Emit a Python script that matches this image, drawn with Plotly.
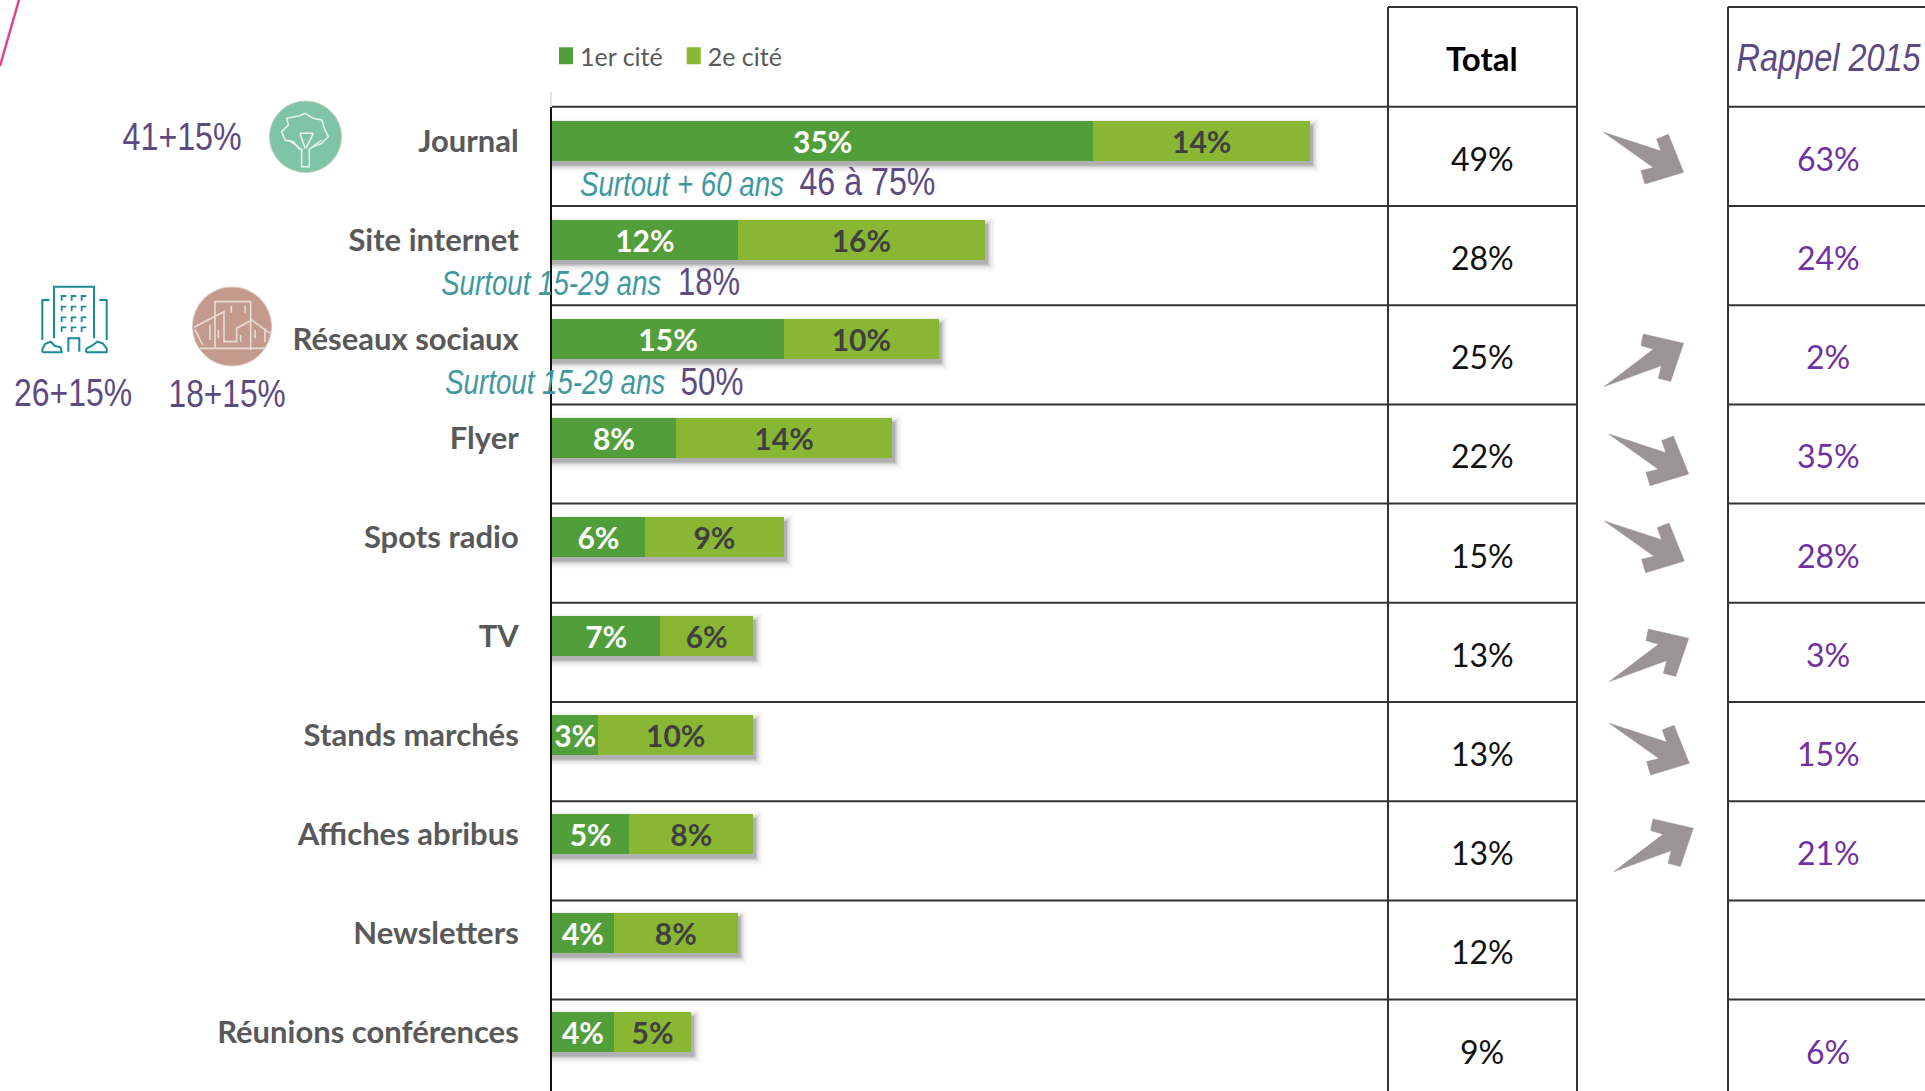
import json
import plotly.graph_objects as go

W, H = 1925, 1091
categories = ["Journal", "Site internet", "Réseaux sociaux", "Flyer", "Spots radio", "TV",
              "Stands marchés", "Affiches abribus", "Newsletters", "Réunions conférences"]
premier = [35, 12, 15, 8, 6, 7, 3, 5, 4, 4]
deuxieme = [14, 16, 10, 14, 9, 6, 10, 8, 8, 5]
total = [49, 28, 25, 22, 15, 13, 13, 13, 12, 9]
rappel = [63, 24, 2, 35, 28, 3, 15, 21, None, 6]
tendance = ["down", None, "up", "down", "down", "up", "down", "up", None, None]
arrow_tips = [(1683.6, 172.3), None, (1683.6, 343.3), (1688.7, 474), (1684.3, 561),
              (1688.7, 638.3), (1689.3, 763.3), (1693.3, 828.3), None, None]

NARROW = "Liberation Sans"
LATO = "Lato"
GREEN1, GREEN2 = "#529e3a", "#8ab733"
PURPLE, TEAL, RAPPEL = "#5c4a80", "#3f98a0", "#7030a0"
GREY_TXT, LINE, ARROW = "#595959", "#333333", "#9b9395"

X0, PX_PER_PCT = 552, 15.47
ROW_Y0, ROW_STEP = 140.8, 99.0

# widths (px) of the condensed texts in the reference
narrow_widths = {"Rappel 2015": 184, "Surtout + 60 ans": 204, "46 à 75%": 136, "Surtout 15-29 ans": 220,
                 "18%": 62, "50%": 63, "41+15%": 119, "26+15%": 118, "18+15%": 117}


def px(x):
    return x / W


def py(y):
    return 1 - y / H


def rowy(y):
    return (y - ROW_Y0) / ROW_STEP


def path(*subpaths, close=False):
    out = []
    for pts in subpaths:
        out.append("M " + " L ".join(f"{px(x):.5f} {py(y):.5f}" for x, y in pts) + (" Z" if close else ""))
    return " ".join(out)


def zoom_pts(pts, ox, oy):
    return [(ox + x / 3, oy + y / 3) for x, y in pts]


shapes = []


def line(x0, y0, x1, y1, color=LINE, width=2):
    shapes.append(dict(type="line", xref="paper", yref="paper", x0=px(x0), x1=px(x1), y0=py(y0), y1=py(y1),
                       line=dict(color=color, width=width), layer="above"))


def draw(subpaths, color, width=1.5, fill=None):
    shapes.append(dict(type="path", xref="paper", yref="paper", path=path(*subpaths, close=fill is not None),
                       line=dict(color=color, width=width), fillcolor=fill or "rgba(0,0,0,0)", layer="above"))


# bar drop shadows, derived from the bar totals
for i, t in enumerate(total):
    for grow, op in ((0.0, 0.24), (1.5, 0.14), (3.0, 0.09), (5.0, 0.05), (7.0, 0.03)):
        shapes.append(dict(type="rect", xref="x", yref="y", x0=0, x1=t + (3 + grow) / PX_PER_PCT,
                           y0=i - 0.2 + (4 - grow) / ROW_STEP, y1=i + 0.2 + (5 + grow) / ROW_STEP,
                           fillcolor="#555555", opacity=op, line=dict(width=0), layer="below"))

# table frame
for k in range(10):
    y = 106.8 + 99.2 * k
    line(X0, y, 1577, y)
    line(1728, y, W, y)
line(1388, 7, 1577, 7)
line(1728, 7, W, 7)
line(1388, 7, 1388, H)
line(1577, 7, 1577, H)
line(1728, 7, 1728, H)
line(X0 - 1, 92, X0 - 1, 106, "#d9d9d9", 1.5)

# trend arrows
DOWN = [(-80, -40), (-22.7, -21.3), (-27, -33.3), (-15.3, -38), (0, 0), (-38.7, 11.7), (-42.7, -1.7), (-30.3, -4.7)]
UP = [(-79.3, 43.3), (-22, 22.3), (-25.3, 35), (-13, 38.3), (0, 0), (-40.3, -9.3), (-42.7, 2.3), (-30.3, 6)]
for tip, d in zip(arrow_tips, tendance):
    if tip:
        draw([[(tip[0] + x, tip[1] + y) for x, y in (DOWN if d == "down" else UP)]], ARROW, 0.5, ARROW)

# pink stroke, top left
line(19, 0, 0, 66, "#d9478a", 2.5)

# tree icon
shapes.append(dict(type="circle", xref="paper", yref="paper", x0=px(269.5), x1=px(341.5), y0=py(101), y1=py(172.5),
                   fillcolor="#7fc4a5", line=dict(color="#b5cfc4", width=1), layer="above"))
TX, TY = 250, 90
draw([zoom_pts([(150, 180), (130, 155), (105, 150), (95, 125), (115, 105), (110, 85), (150, 77), (165, 70), (190, 85),
                (215, 90), (225, 120), (235, 140), (215, 160), (185, 172)], TX, TY)], "#e8f4ee", 1.5)
draw([zoom_pts([(155, 180), (155, 230), (178, 230), (178, 180)], TX, TY),
      zoom_pts([(158, 180), (115, 150)], TX, TY), zoom_pts([(175, 180), (215, 150)], TX, TY),
      zoom_pts([(165, 175), (150, 130)], TX, TY), zoom_pts([(168, 175), (190, 130)], TX, TY),
      zoom_pts([(150, 130), (190, 130)], TX, TY)], "#e8f4ee", 1.5)

# building icon
BX, BY = 20, 270
BT = "#1a8a94"
draw([zoom_pts([(102, 205), (102, 50), (222, 50), (222, 205)], BX, BY),
      zoom_pts([(88, 90), (67, 90), (67, 210)], BX, BY), zoom_pts([(238, 90), (260, 90), (260, 210)], BX, BY),
      zoom_pts([(145, 245), (145, 205), (178, 205), (178, 245)], BX, BY),
      zoom_pts([(67, 247), (125, 247), (122, 232), (105, 228), (92, 215), (75, 222), (67, 238), (67, 247)], BX, BY),
      zoom_pts([(197, 247), (260, 247), (260, 235), (248, 220), (232, 215), (215, 228), (200, 235), (197, 247)], BX, BY)],
     BT, 2)
win = []
for wy in (78, 110, 142, 172):
    for wx in (125, 155, 185):
        win.append(zoom_pts([(wx, wy + 14), (wx, wy), (wx + 14, wy)], BX, BY))
draw(win, BT, 1.8)

# city icon
shapes.append(dict(type="circle", xref="paper", yref="paper", x0=px(192.5), x1=px(271.5), y0=py(287), y1=py(366),
                   fillcolor="#c49a8c", line=dict(color="#d8c4bc", width=1), layer="above"))
draw([zoom_pts([(585, 235), (585, 95), (692, 95), (692, 240)], BX, BY),
      zoom_pts([(522, 172), (612, 125), (612, 215), (650, 215), (650, 175), (695, 150), (750, 190)], BX, BY),
      zoom_pts([(525, 178), (548, 225)], BX, BY), zoom_pts([(540, 235), (735, 235)], BX, BY),
      zoom_pts([(570, 165), (570, 210)], BX, BY), zoom_pts([(595, 180), (595, 205)], BX, BY),
      zoom_pts([(634, 108), (634, 128)], BX, BY), zoom_pts([(675, 108), (675, 128)], BX, BY),
      zoom_pts([(662, 195), (662, 215)], BX, BY), zoom_pts([(705, 180), (705, 205)], BX, BY),
      zoom_pts([(735, 175), (735, 215)], BX, BY)], "#e6dcd6", 1.6)

fig = go.Figure()
fig.add_bar(name="1er cité", y=categories, x=premier, orientation="h", marker=dict(color=GREEN1, line=dict(width=0)),
            text=[f"{v}%" for v in premier], textposition="inside", insidetextanchor="middle", textangle=0,
            insidetextfont=dict(family=LATO, size=30, color="white", weight=700), constraintext="none", cliponaxis=False)
fig.add_bar(name="2e cité", y=categories, x=deuxieme, orientation="h", marker=dict(color=GREEN2, line=dict(width=0)),
            text=[f"{v}%" for v in deuxieme], textposition="inside", insidetextanchor="middle", textangle=0,
            insidetextfont=dict(family=LATO, size=30, color="#404040", weight=700), constraintext="none", cliponaxis=False)

annotations = []


def note(x, y, text, family, size, color, weight=None, italic=False, yref="paper"):
    f = dict(family=family, size=size, color=color)
    if weight:
        f["weight"] = weight
    if italic:
        f["style"] = "italic"
    annotations.append(dict(x=px(x), y=py(y) if yref == "paper" else y, xref="paper", yref=yref, text=text, font=f,
                            showarrow=False, xanchor="center", yanchor="middle", borderpad=0, borderwidth=0))


for i, (t, r) in enumerate(zip(total, rappel)):
    y = rowy(158.2 + 99.2 * i)
    note(1482, y, f"{t}%", LATO, 32, "#111111", yref="y")
    if r is not None:
        note(1828, y, f"{r}%", LATO, 32, RAPPEL, yref="y")

note(1482, 58, "Total", LATO, 33, "#000000", weight=700)
note(1828, 58, "Rappel 2015", NARROW, 39, PURPLE, italic=True)
note(681.6, 184, "Surtout + 60 ans", NARROW, 35, TEAL, italic=True)
note(867, 182, "46 à 75%", NARROW, 39, PURPLE)
note(551, 282, "Surtout 15-29 ans", NARROW, 35, TEAL, italic=True)
note(709, 281, "18%", NARROW, 39, PURPLE)
note(555, 382, "Surtout 15-29 ans", NARROW, 35, TEAL, italic=True)
note(711.5, 381, "50%", NARROW, 39, PURPLE)
note(181.5, 137, "41+15%", NARROW, 39, PURPLE)
note(73, 392, "26+15%", NARROW, 39, PURPLE)
note(226.5, 393, "18+15%", NARROW, 39, PURPLE)

fig.update_layout(
    width=W, height=H, margin=dict(l=0, r=0, t=0, b=0, autoexpand=False),
    paper_bgcolor="white", plot_bgcolor="rgba(0,0,0,0)", barmode="stack", bargap=0.6,
    shapes=shapes, annotations=annotations, hovermode=False,
    legend=dict(orientation="h", x=px(540), y=py(33), xanchor="left", yanchor="top",
                font=dict(family=LATO, size=25, color=GREY_TXT), traceorder="normal",
                itemwidth=30, bgcolor="rgba(0,0,0,0)"),
    xaxis=dict(domain=[px(X0), 1], range=[0, (W - X0) / PX_PER_PCT], visible=False, fixedrange=True),
    yaxis=dict(domain=[0, py(106.8)], range=[rowy(H), rowy(106.8)], type="category", categoryorder="array",
               categoryarray=categories, showline=True, linecolor="#111111", linewidth=2, showgrid=False,
               ticks="", ticklabelstandoff=25, zeroline=False, fixedrange=True,
               tickfont=dict(family=LATO, size=31, color=GREY_TXT, weight=700)),
)

post = """
document.body.style.margin = '0';
document.documentElement.style.overflow = 'hidden';
var widths = %s;
function squeeze() {
  document.querySelectorAll('.annotation-text').forEach(function (el) {
    var w = widths[el.textContent];
    if (w) { el.setAttribute('textLength', w); el.setAttribute('lengthAdjust', 'spacingAndGlyphs'); }
  });
  document.querySelectorAll('.legend .legendpoints path').forEach(function (el) {
    el.setAttribute('d', 'M13,8.5H-1V-8.5H13Z');
  });
}
squeeze();
""" % json.dumps(narrow_widths, ensure_ascii=False)
fig.write_html("out.html", config=dict(displayModeBar=False), post_script=post)
